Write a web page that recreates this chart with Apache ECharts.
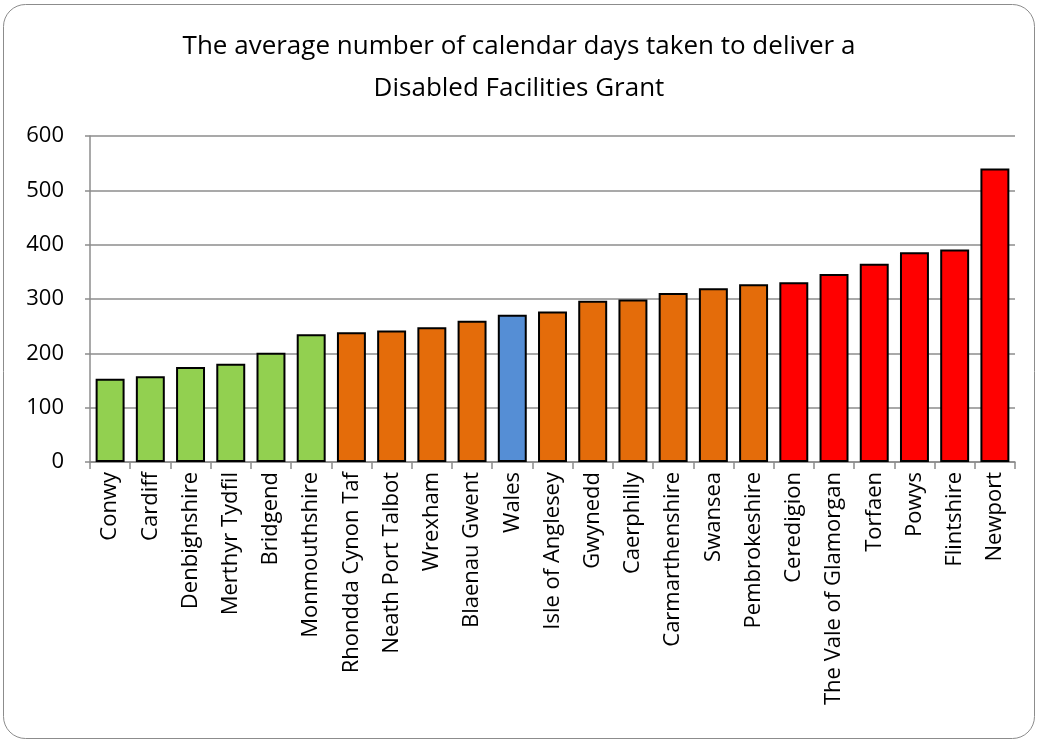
<!DOCTYPE html>
<html>
<head>
<meta charset="utf-8">
<script src="https://cdn.jsdelivr.net/npm/echarts@6/dist/echarts.min.js"></script>
<style>
html,body{margin:0;padding:0;background:#fff;}
#chart{width:1038px;height:742px;}
</style>
</head>
<body>
<div id="chart"></div>
<script>
var titleText = 'The average number of calendar days taken to deliver a\nDisabled Facilities Grant';
var categories = ['Conwy','Cardiff','Denbighshire','Merthyr Tydfil','Bridgend','Monmouthshire','Rhondda Cynon Taf','Neath Port Talbot','Wrexham','Blaenau Gwent','Wales','Isle of Anglesey','Gwynedd','Caerphilly','Carmarthenshire','Swansea','Pembrokeshire','Ceredigion','The Vale of Glamorgan','Torfaen','Powys','Flintshire','Newport'];
var values = [153,158,175,181,201,235,239,242,248,260,271,277,297,299,311,320,327,331,346,365,386,391,540];
var groups = ['green','green','green','green','green','green','orange','orange','orange','orange','blue','orange','orange','orange','orange','orange','orange','red','red','red','red','red','red'];
var palette = {green:'#92D050', orange:'#E46C0A', blue:'#558ED5', red:'#FF0000'};
var yTicks = [0,100,200,300,400,500,600];

var chart = echarts.init(document.getElementById('chart'));
var font = '"Open Sans", "Noto Sans", sans-serif';
chart.setOption({
  animation:false,
  backgroundColor:'#fff',
  graphic:[{
    type:'rect',
    shape:{x:3.5,y:4.5,width:1031,height:734,r:22},
    style:{fill:'none',stroke:'#8c8c8c',lineWidth:1},
    z:-1
  }],
  title:{
    text:titleText,
    left:'center',
    top:21,
    textStyle:{fontFamily:font,fontSize:26,fontWeight:'normal',color:'#000',lineHeight:42}
  },
  grid:{left:90,right:23,top:136,bottom:280,containLabel:false},
  xAxis:{
    type:'category',
    data:categories,
    boundaryGap:true,
    axisLine:{lineStyle:{color:'#8c8c8c',width:1.5}},
    axisTick:{show:true,alignWithLabel:false,length:7,lineStyle:{color:'#8c8c8c',width:1.5}},
    axisLabel:{rotate:90,margin:10,interval:0,fontFamily:font,fontSize:22,color:'#000'}
  },
  yAxis:{
    type:'value',
    min:yTicks[0],
    max:yTicks[yTicks.length-1],
    interval:100,
    axisLine:{show:true,lineStyle:{color:'#8c8c8c',width:1.5}},
    axisTick:{show:true,length:5,lineStyle:{color:'#8c8c8c',width:1.5}},
    splitLine:{lineStyle:{color:'#8c8c8c',width:1.5}},
    axisLabel:{margin:26,fontFamily:font,fontSize:22,color:'#000'}
  },
  series:[{
    type:'bar',
    barCategoryGap:'28%',
    data:values.map(function(v,i){
      return {value:v,itemStyle:{color:palette[groups[i]]}};
    }),
    itemStyle:{borderColor:'#000',borderWidth:2}
  }]
});
</script>
</body>
</html>
